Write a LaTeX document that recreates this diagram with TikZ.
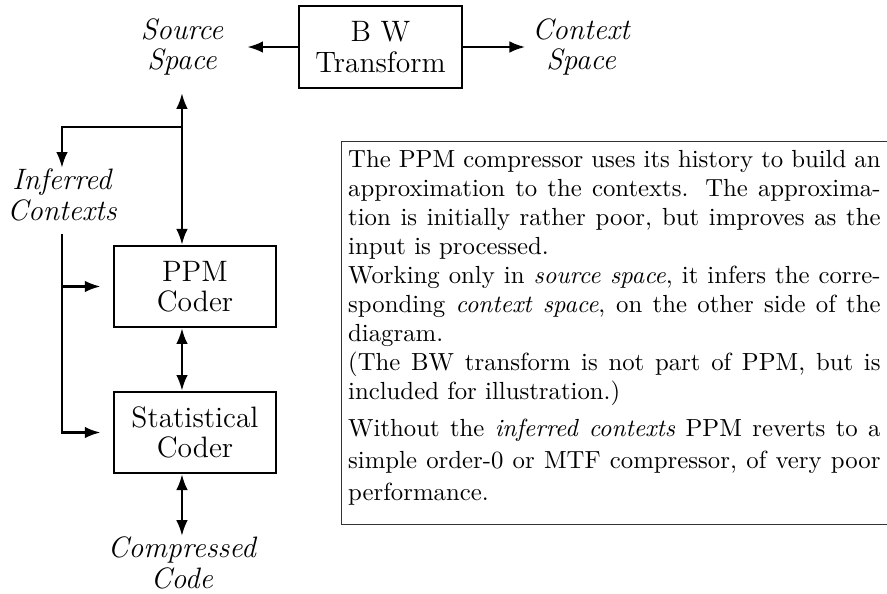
\documentclass[tikz,border=0pt]{standalone}
\usetikzlibrary{arrows.meta}
\begin{document}
\begin{tikzpicture}[>={Latex[length=6.5pt,width=4.8pt]}, line width=0.95pt,
  box/.style={draw, minimum width=2.36cm, minimum height=1.18cm, align=center, font=\fontsize{12.2}{12.6}\selectfont},
  lbl/.style={inner sep=0pt, align=center, font=\fontsize{12.2}{12.6}\selectfont\itshape}]
\useasboundingbox (0,0) rectangle (12.883,-8.627);
\node[box, minimum height=1.19cm] (bw) at (5.526,-0.683) {B W\\Transform};
\node[lbl] (src) at (2.643,-0.683) {Source\\Space};
\node[lbl] (ctx) at (8.440,-0.683) {Context\\Space};
\node[lbl] (inf) at (0.900,-2.830) {Inferred\\Contexts};
\node[box] (ppm) at (2.832,-4.161) {PPM\\Coder};
\node[box] (stat) at (2.832,-6.282) {Statistical\\Coder};
\node[lbl] (comp) at (2.643,-8.177) {Compressed\\Code};
\coordinate (split) at (2.643,-1.845);
\node[anchor=north west, inner xsep=2.5pt, inner ysep=3pt, text width=220pt, align=justify, font=\fontsize{10.23}{12}\selectfont] (note) at (4.953,-2.062) {The PPM compressor uses its history to build an approximation to the contexts. The approximation is initially rather poor, but improves as the input is processed.\\
Working only in \emph{source space}, it infers the corresponding \emph{context space}, on the other side of the diagram.\\
(The BW transform is not part of PPM, but is included for illustration.)\par\vspace{1.8pt}
{\fontsize{10.23}{13.2}\selectfont Without the \emph{inferred contexts} PPM reverts to a simple order-0 or MTF compressor, of very poor performance.\rule[-6.6pt]{0pt}{0pt}\par}};
\draw[line width=0.4pt, black!80] ([xshift=5mm]note.north east) -- (note.north west) -- (note.south west) -- ([xshift=5mm]note.south east);
\draw[->, shorten >=9.5pt] (bw) -- (src);
\draw[->, shorten >=2.5pt] (bw) -- (ctx);
\draw[<->, shorten >=6.8pt] (ppm.north -| src) -- (src);
\draw[->] (split) -| (inf);
\draw[->, shorten <=5pt, shorten >=5pt] (inf) |- (stat);
\draw[->, shorten >=5pt] (inf |- ppm) -- (ppm);
\draw[<->] (ppm.south -| src) -- (stat.north -| src);
\draw[<->] (stat.south -| comp) -- (comp);
\end{tikzpicture}
\end{document}
